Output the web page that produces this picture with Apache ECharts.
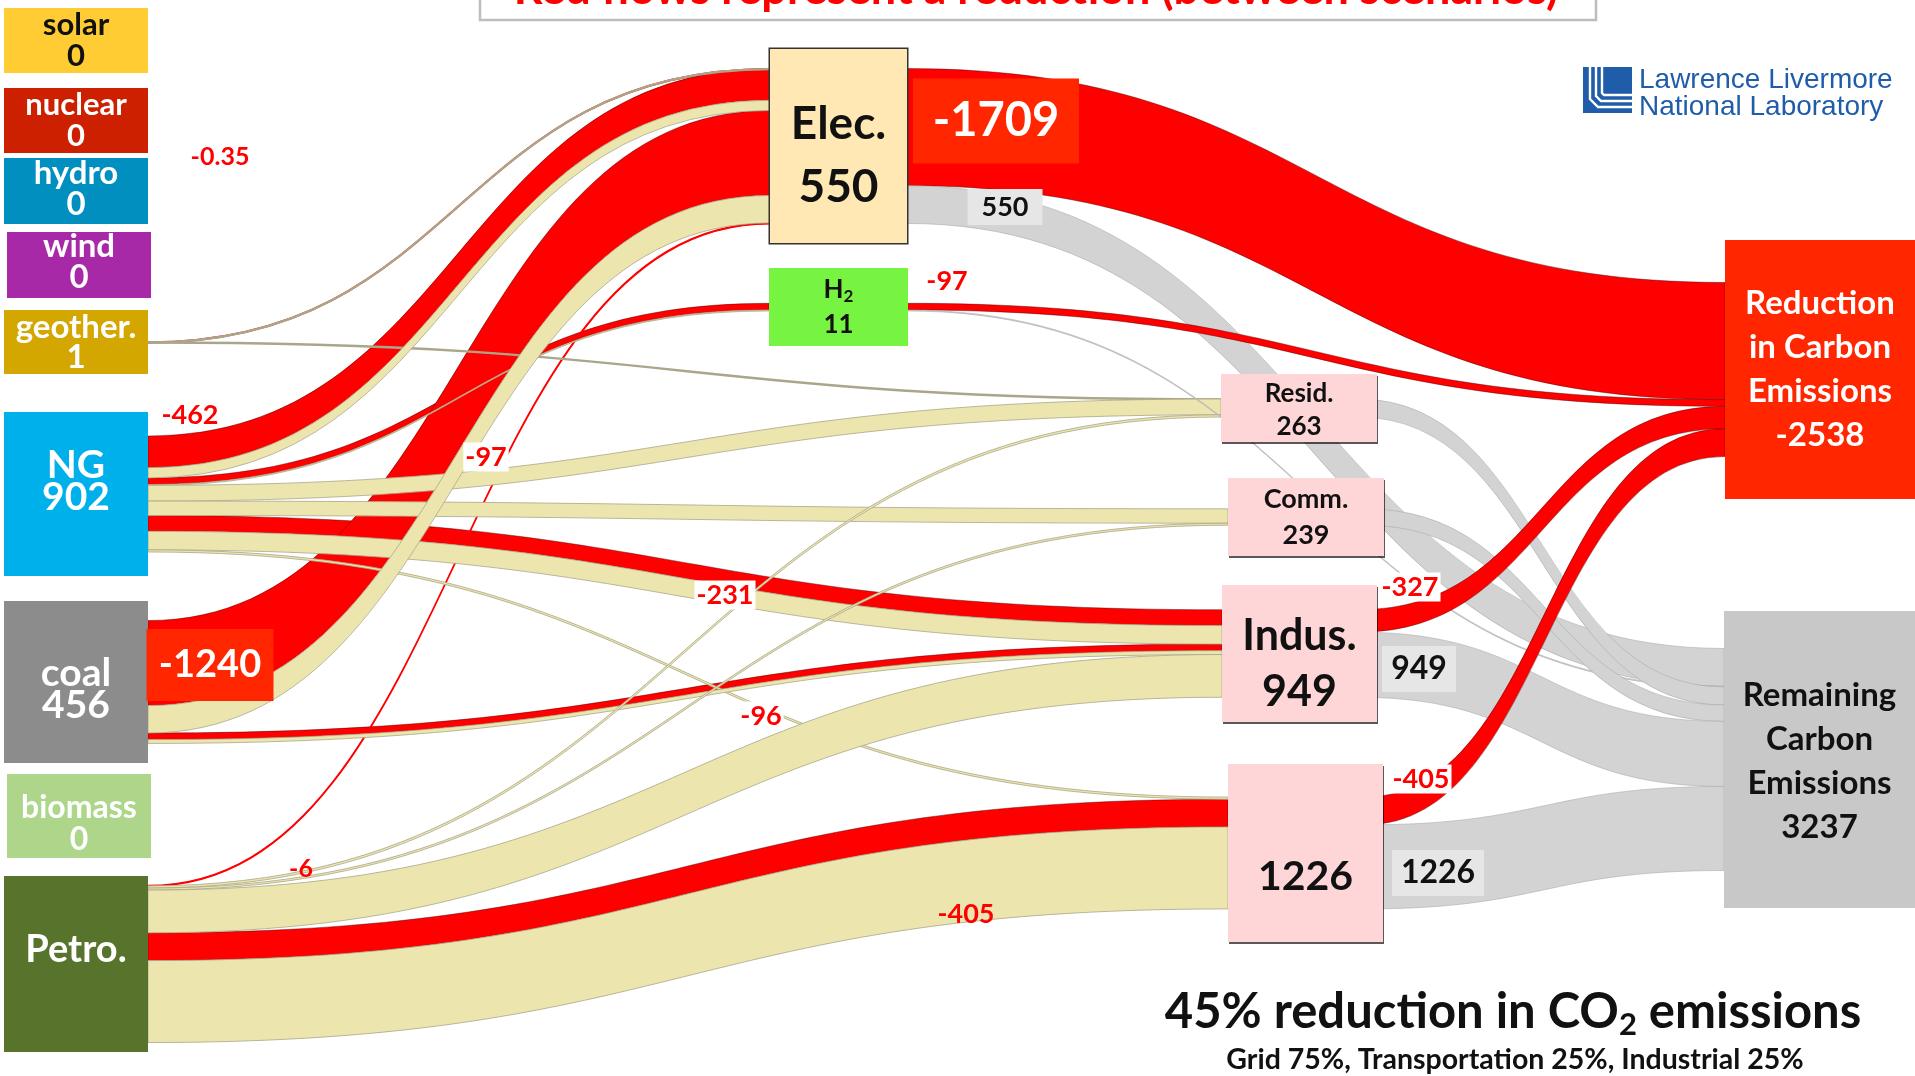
<!DOCTYPE html>
<html>
<head>
<meta charset="utf-8">
<title>Carbon emission reductions</title>
<script src="https://cdn.jsdelivr.net/npm/echarts@6/dist/echarts.min.js"></script>
<style>
html, body { margin: 0; padding: 0; background: #fff; }
#mapChart { width: 1915px; height: 1076px; }
</style>
</head>
<body>
<div id="mapChart"></div>
<script>
// ---- values ----
var sources = ['solar', 'nuclear', 'hydro', 'wind', 'geother.', 'NG', 'coal', 'biomass', 'Petro.'];
var sourceTotals = [0, 0, 0, 0, 1, 902, 456, 0, null];
var sectors = ['Elec.', 'H2', 'Resid.', 'Comm.', 'Indus.', 'Transp.'];
var sectorTotals = [550, 11, 263, 239, 949, 1226];
var sectorReductions = [-1709, -97, null, null, -327, -405];
var totalReduction = -2538;
var totalRemaining = 3237;

// red flows: source -> sector (reduction)
var reductionFlows = [
    ['geother.', 'Elec.', -0.35],
    ['NG', 'Elec.', -462],
    ['NG', 'H2', -97],
    ['NG', 'Indus.', -231],
    ['coal', 'Elec.', -1240],
    ['coal', 'Indus.', -96],
    ['Petro.', 'Elec.', -6],
    ['Petro.', 'Transp.', -405]
];
// beige flows: source -> sector (remaining), estimated widths
var remainingFlows = [
    ['geother.', 'Elec.', 0.6],
    ['geother.', 'Resid.', 0.4],
    ['NG', 'Elec.', 149],
    ['NG', 'H2', 11],
    ['NG', 'Resid.', 230],
    ['NG', 'Comm.', 210],
    ['NG', 'Indus.', 270],
    ['NG', 'Transp.', 31],
    ['coal', 'Elec.', 400],
    ['coal', 'Indus.', 56],
    ['Petro.', 'Resid.', 33],
    ['Petro.', 'Comm.', 29],
    ['Petro.', 'Indus.', 623],
    ['Petro.', 'Transp.', 1195]
];

// ---- layout (px in the 1915x1076 page) ----
var W = 1915, H = 1076, NODE_W = 137;
var boxes = {
    'solar': [4, 8, 144, 65],
    'nuclear': [4, 88, 144, 65],
    'hydro': [4, 158, 144, 66],
    'wind': [7, 232, 144, 66],
    'geother.': [4, 310, 144, 64],
    'NG': [4, 412, 144, 164],
    'coal': [4, 601, 144, 162],
    'biomass': [7, 774, 144, 84],
    'Petro.': [4, 876, 144, 176],
    'Elec.': [770, 49, 137, 194],
    'H2': [769, 268, 139, 78],
    'Resid.': [1221, 374, 156, 68],
    'Comm.': [1228, 478, 156, 78],
    'Indus.': [1222, 585, 155, 137],
    'Transp.': [1228, 764, 155, 178],
    'Reduction': [1725, 240, 190, 259],
    'Remaining': [1724, 611, 191, 297]
};
var looks = {
    'solar': {bg: '#FFCC33', fg: '#111', size: 31, lh: 31, shift: 0},
    'nuclear': {bg: '#CC2000', fg: '#fff', size: 31, lh: 31, shift: 0},
    'hydro': {bg: '#008FBF', fg: '#fff', size: 33, lh: 31, shift: -2},
    'wind': {bg: '#A829A8', fg: '#fff', size: 33, lh: 31, shift: -3},
    'geother.': {bg: '#D4A600', fg: '#fff', size: 33, lh: 30, shift: 0},
    'NG': {bg: '#00B0EA', fg: '#fff', size: 39, lh: 32, shift: -13},
    'coal': {bg: '#8C8C8C', fg: '#fff', size: 39, lh: 32, shift: 7},
    'biomass': {bg: '#ADD68A', fg: '#fff', size: 32, lh: 32, shift: 8},
    'Petro.': {bg: '#58742C', fg: '#fff', size: 38, lh: 40, shift: -14},
    'Elec.': {bg: '#FFE8B4', fg: '#111', size: 46, lh: 63, shift: 10, border: '#333'},
    'H2': {bg: '#77F442', fg: '#111', size: 26, lh: 35, shift: 0},
    'Resid.': {bg: '#FFD6D7', fg: '#111', size: 26, lh: 33, shift: 2, shadow: true},
    'Comm.': {bg: '#FFD6D7', fg: '#111', size: 27, lh: 36, shift: 0, shadow: true},
    'Indus.': {bg: '#FFD6D7', fg: '#111', size: 43, lh: 56, shift: 11, shadow: true},
    'Transp.': {bg: '#FFD6D7', fg: '#111', size: 41, lh: 50, shift: 24, shadow: true},
    'Reduction': {bg: '#FF2600', fg: '#fff', size: 33, lh: 44, shift: 0},
    'Remaining': {bg: '#C8C8C8', fg: '#111', size: 33, lh: 44, shift: 2}
};
// boxed value labels on flows: [cx, cy, w, h, fill, text color, font size]
var flowBadges = {
    'coal>Elec.': [210, 665, 127, 72, '#FF2600', '#fff', 38],
    'Elec.>Reduction': [996, 121, 166, 85, '#FF2600', '#fff', 47],
    'Elec.>Remaining': [1005, 207, 75, 36, '#E6E6E6', '#111', 27],
    'Indus.>Remaining': [1419, 669, 74, 46, '#E6E6E6', '#111', 32],
    'Transp.>Remaining': [1438, 873, 92, 46, '#E6E6E6', '#111', 32]
};
// plain red value labels: [cx, cy, font size, white backing]
var flowTags = {
    'geother.>Elec.': [220, 157, 25, false],
    'NG>Elec.': [190, 415, 27, false],
    'NG>H2': [486, 457, 27, true],
    'NG>Indus.': [725, 595, 27, true],
    'coal>Indus.': [761, 716, 27, true],
    'Petro.>Elec.': [301, 869, 25, false],
    'Petro.>Transp.': [966, 914, 27, false],
    'H2>Reduction': [947, 281, 27, false],
    'Indus.>Reduction': [1410, 587, 27, true],
    'Transp.>Reduction': [1421, 779, 27, true]
};

var FONT = 'Lato';
var RED = '#FF0000', BEIGE = '#ECE6AE', GREY = '#D3D3D3';

function boldFont(px) {
    return 'bold ' + px + 'px ' + FONT;
}

function nodeText(name) {
    var i = sources.indexOf(name);
    if (i >= 0) return sourceTotals[i] == null ? name : name + '\n' + sourceTotals[i];
    i = sectors.indexOf(name);
    if (i >= 0) {
        if (name === 'H2') return '{h|H}{sub|2}\n' + sectorTotals[i];
        if (name === 'Transp.') return String(sectorTotals[i]);
        return name + '\n' + sectorTotals[i];
    }
    if (name === 'Reduction') return 'Reduction\nin Carbon\nEmissions\n' + totalReduction;
    return 'Remaining\nCarbon\nEmissions\n' + totalRemaining;
}

function nodeLabel(name, rectX) {
    var b = boxes[name], k = looks[name];
    var text = nodeText(name);
    var free = b[3] - text.split('\n').length * k.lh;
    var lab = {
        show: true,
        position: [b[0] - rectX + b[2] / 2, '50%'],
        align: 'center',
        verticalAlign: 'middle',
        formatter: text,
        width: b[2],
        padding: [free / 2 + k.shift, 0, free / 2 - k.shift, 0],
        backgroundColor: k.bg,
        color: k.fg,
        fontFamily: FONT,
        fontWeight: 'bold',
        fontSize: k.size,
        lineHeight: k.lh,
        rich: {
            h: {fontSize: 26, fontWeight: 'bold', fontFamily: FONT, color: '#111', lineHeight: 35},
            sub: {fontSize: 17, fontWeight: 'bold', fontFamily: FONT, color: '#111', lineHeight: 21, padding: [14, 0, 0, 0]}
        }
    };
    if (k.border) {
        lab.borderColor = k.border;
        lab.borderWidth = 1.5;
    }
    if (k.shadow) {
        lab.shadowColor = 'rgba(0,0,0,0.65)';
        lab.shadowOffsetX = 1;
        lab.shadowOffsetY = 2;
    }
    return lab;
}

var allNodes = sources.concat(sectors, ['Reduction', 'Remaining']);

function buildNodes(dys) {
    return allNodes.map(function (name, i) {
        var b = boxes[name];
        var rectX = sources.indexOf(name) >= 0 ? b[0] + b[2] - NODE_W : b[0];
        var dy = dys ? dys[i] : 0;
        return {
            name: name,
            localX: rectX / W,
            localY: (b[1] + b[3] / 2 - dy / 2) / H,
            itemStyle: {color: 'rgba(0,0,0,0)', borderWidth: 0},
            label: nodeLabel(name, rectX)
        };
    });
}

function flowStyle(kind, v) {
    if (kind === 'red') {
        return v < 10
            ? {color: RED, opacity: 1, borderColor: RED, borderWidth: 1.3}
            : {color: RED, opacity: 1, borderColor: 'rgba(70,0,0,0.55)', borderWidth: 0.8};
    }
    if (kind === 'beige') {
        return {color: BEIGE, opacity: 1, borderColor: '#A9A68A', borderWidth: v < 10 ? 1.4 : 0.8};
    }
    return {color: GREY, opacity: 1, borderColor: '#ABABAB', borderWidth: 0.6};
}

var links = [];
var flowText = {};
reductionFlows.forEach(function (f) {
    links.push({source: f[0], target: f[1], value: -f[2], lineStyle: flowStyle('red', -f[2])});
    flowText[f[0] + '>' + f[1]] = String(f[2]);
});
remainingFlows.forEach(function (f) {
    links.push({source: f[0], target: f[1], value: f[2], lineStyle: flowStyle('beige', f[2])});
});
sectors.forEach(function (s, i) {
    if (sectorReductions[i] != null) {
        links.push({source: s, target: 'Reduction', value: -sectorReductions[i], lineStyle: flowStyle('red', -sectorReductions[i])});
        flowText[s + '>Reduction'] = String(sectorReductions[i]);
    }
    links.push({source: s, target: 'Remaining', value: sectorTotals[i], lineStyle: flowStyle('grey', sectorTotals[i])});
    flowText[s + '>Remaining'] = String(sectorTotals[i]);
});

// ---- annotations ----
var extras = [];
Object.keys(flowBadges).forEach(function (key) {
    var a = flowBadges[key];
    extras.push({type: 'rect', z: 100, shape: {x: a[0] - a[2] / 2, y: a[1] - a[3] / 2, width: a[2], height: a[3]}, style: {fill: a[4]}});
    extras.push({type: 'text', z: 101, x: a[0], y: a[1], style: {text: flowText[key], fill: a[5], font: boldFont(a[6]), align: 'center', verticalAlign: 'middle'}});
});
Object.keys(flowTags).forEach(function (key) {
    var a = flowTags[key];
    var st = {text: flowText[key], fill: RED, font: boldFont(a[2]), align: 'center', verticalAlign: 'middle'};
    if (a[3]) {
        st.backgroundColor = '#fff';
        st.padding = [1, 2, 1, 2];
    }
    extras.push({type: 'text', z: 101, x: a[0], y: a[1], style: st});
});
// banner at the top (cut by the page edge)
extras.push({type: 'rect', z: 100, shape: {x: 480, y: -30, width: 1116, height: 50}, style: {fill: '#fff', stroke: '#BDBDBD', lineWidth: 2.5}});
extras.push({type: 'text', z: 101, x: 1036, y: -11, style: {text: 'Red flows represent a reduction (between scenarios)', fill: RED, font: boldFont(45), align: 'center', verticalAlign: 'middle'}});
// LLNL logo
var LLNL_BLUE = '#1F5DAA';
extras.push({type: 'rect', z: 100, shape: {x: 1583, y: 67, width: 49, height: 46}, style: {fill: LLNL_BLUE}});
[[1590, 99, 107], [1596, 96, 101], [1602, 93, 95]].forEach(function (p) {
    extras.push({type: 'polyline', z: 101, shape: {points: [[p[0], 67], [p[0], p[1]], [p[0] + (p[2] - p[1]), p[2]], [1632, p[2]]]}, style: {stroke: '#fff', lineWidth: 2.4, fill: null}});
});
extras.push({type: 'text', z: 101, x: 1639, y: 80, style: {text: 'Lawrence Livermore', fill: LLNL_BLUE, font: '28px "Liberation Sans"', align: 'left', verticalAlign: 'middle'}});
extras.push({type: 'text', z: 101, x: 1639, y: 107, style: {text: 'National Laboratory', fill: LLNL_BLUE, font: '28px "Liberation Sans"', align: 'left', verticalAlign: 'middle'}});
// summary text
extras.push({type: 'text', z: 101, x: 1513, y: 1012, style: {
    text: '45% reduction in CO{sub|2} emissions', fill: '#111', font: boldFont(49),
    align: 'center', verticalAlign: 'middle',
    rich: {sub: {font: boldFont(31), fill: '#111', padding: [26, 0, 0, 0]}}
}});
extras.push({type: 'text', z: 101, x: 1515, y: 1060, style: {text: 'Grid 75%, Transportation 25%, Industrial 25%', fill: '#111', font: boldFont(28.5), align: 'center', verticalAlign: 'middle'}});

var myChart = echarts.init(document.getElementById('mapChart'));

function makeOption(nodes) {
    return {
        animation: false,
        backgroundColor: '#fff',
        graphic: {elements: extras},
        series: [{
            type: 'sankey',
            left: 0,
            top: 0,
            right: 0,
            bottom: 0,
            nodeWidth: NODE_W,
            nodeGap: 85,
            nodeAlign: 'left',
            layoutIterations: 0,
            draggable: false,
            emphasis: {disabled: true},
            lineStyle: {curveness: 0.5, opacity: 1},
            data: nodes,
            links: links
        }]
    };
}

myChart.setOption(makeOption(buildNodes(null)));
// centre each node's flows on its box, using the heights the layout gave
var nodeData = myChart.getModel().getSeriesByIndex(0).getData();
var heights = allNodes.map(function (n, i) {
    var l = nodeData.getItemLayout(i);
    return l ? l.dy : 0;
});
myChart.setOption(makeOption(buildNodes(heights)), true);
</script>
</body>
</html>
